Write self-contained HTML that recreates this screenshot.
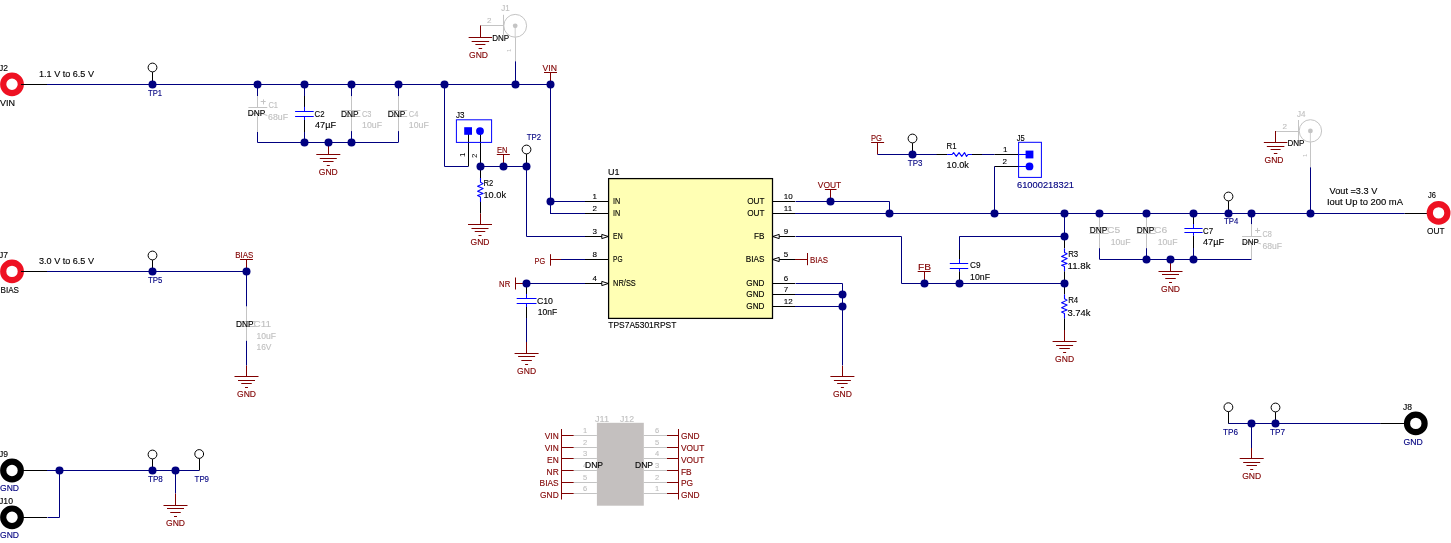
<!DOCTYPE html>
<html><head><meta charset="utf-8"><style>
html,body{margin:0;padding:0;background:#fff;overflow:hidden}
svg{display:block;font-family:"Liberation Sans", sans-serif;will-change:transform}
</style></head><body>
<svg width="1451" height="543" viewBox="0 0 1451 543">
<rect width="1451" height="543" fill="#fff"/>
<circle cx="12" cy="84.3" r="8.8" fill="none" stroke="#ee1122" stroke-width="6.2"/>
<line x1="21" y1="84.5" x2="47" y2="84.5" stroke="#000000" stroke-width="1.0"/>
<line x1="47" y1="84.5" x2="550" y2="84.5" stroke="#000080" stroke-width="1.0"/>
<text x="-1" y="70.6" fill="#000000" font-size="8.2" text-anchor="start" textLength="9" lengthAdjust="spacingAndGlyphs" stroke="#000000" stroke-width="0.12">J2</text>
<text x="0" y="106" fill="#000000" font-size="8.2" text-anchor="start" textLength="15" lengthAdjust="spacingAndGlyphs" stroke="#000000" stroke-width="0.12">VIN</text>
<text x="39" y="76.8" fill="#000000" font-size="8.2" text-anchor="start" textLength="55" lengthAdjust="spacingAndGlyphs" stroke="#000000" stroke-width="0.12">1.1 V to 6.5 V</text>
<line x1="152.5" y1="72.1" x2="152.5" y2="84" stroke="#000000" stroke-width="1.0"/>
<circle cx="152.5" cy="67.5" r="4.4" fill="#fff" stroke="#000000" stroke-width="1"/>
<text x="148" y="95.8" fill="#000080" font-size="8.2" text-anchor="start" textLength="14" lengthAdjust="spacingAndGlyphs" stroke="#000080" stroke-width="0.12">TP1</text>
<line x1="257.5" y1="84" x2="257.5" y2="96" stroke="#000080" stroke-width="1.0"/>
<line x1="257.5" y1="96" x2="257.5" y2="107.3" stroke="#c4c4c4" stroke-width="1.0"/>
<line x1="257.5" y1="116.2" x2="257.5" y2="132" stroke="#c4c4c4" stroke-width="1.0"/>
<line x1="257.5" y1="132" x2="257.5" y2="142.5" stroke="#000080" stroke-width="1.0"/>
<line x1="248.4" y1="107.5" x2="267.3" y2="107.5" stroke="#c4c4c4" stroke-width="1.0"/>
<line x1="260.7" y1="101.5" x2="265.7" y2="101.5" stroke="#c4c4c4" stroke-width="1.0"/>
<line x1="263.5" y1="99.4" x2="263.5" y2="104.4" stroke="#c4c4c4" stroke-width="1.0"/>
<path d="M248.4,115.5 Q257.5,111 267.3,115.5" fill="none" stroke="#c4c4c4" stroke-width="1"/>
<text x="247.7" y="116.3" fill="#000000" font-size="8.2" text-anchor="start" textLength="17.5" lengthAdjust="spacingAndGlyphs" stroke="#000000" stroke-width="0.12">DNP</text>
<text x="268.4" y="108.1" fill="#c0c0c0" font-size="8.2" text-anchor="start" textLength="9.6" lengthAdjust="spacingAndGlyphs" stroke="#c0c0c0" stroke-width="0.12">C1</text>
<text x="268.1" y="120" fill="#c0c0c0" font-size="8.2" text-anchor="start" textLength="20" lengthAdjust="spacingAndGlyphs" stroke="#c0c0c0" stroke-width="0.12">68uF</text>
<line x1="304.5" y1="84" x2="304.5" y2="96" stroke="#000080" stroke-width="1.0"/>
<line x1="304.5" y1="96" x2="304.5" y2="107" stroke="#000000" stroke-width="1.0"/>
<line x1="295.09999999999997" y1="111.5" x2="313.7" y2="111.5" stroke="#0000ff" stroke-width="1.0"/>
<line x1="295.09999999999997" y1="116.5" x2="313.7" y2="116.5" stroke="#0000ff" stroke-width="1.0"/>
<line x1="304.5" y1="106.8" x2="304.5" y2="111.3" stroke="#0000ff" stroke-width="1.0"/>
<line x1="304.5" y1="116.5" x2="304.5" y2="120.0" stroke="#0000ff" stroke-width="1.0"/>
<line x1="304.5" y1="120" x2="304.5" y2="132" stroke="#000000" stroke-width="1.0"/>
<line x1="304.5" y1="132" x2="304.5" y2="142.5" stroke="#000080" stroke-width="1.0"/>
<text x="314.6" y="116.5" fill="#000000" font-size="8.2" text-anchor="start" textLength="10" lengthAdjust="spacingAndGlyphs" stroke="#000000" stroke-width="0.12">C2</text>
<text x="315" y="128.1" fill="#000000" font-size="8.2" text-anchor="start" textLength="21" lengthAdjust="spacingAndGlyphs" stroke="#000000" stroke-width="0.12">47µF</text>
<line x1="351.5" y1="84" x2="351.5" y2="96.4" stroke="#000080" stroke-width="1.0"/>
<line x1="351.5" y1="96.4" x2="351.5" y2="131.1" stroke="#c4c4c4" stroke-width="1.0"/>
<line x1="351.5" y1="131.1" x2="351.5" y2="142.5" stroke="#000080" stroke-width="1.0"/>
<line x1="341.4" y1="110.5" x2="360.4" y2="110.5" stroke="#c4c4c4" stroke-width="1.0"/>
<line x1="341.4" y1="116.5" x2="360.4" y2="116.5" stroke="#c4c4c4" stroke-width="1.0"/>
<text x="341.0" y="116.7" fill="#000000" font-size="8.2" text-anchor="start" textLength="17.6" lengthAdjust="spacingAndGlyphs" stroke="#000000" stroke-width="0.12">DNP</text>
<text x="362.0" y="116.7" fill="#c0c0c0" font-size="8.2" text-anchor="start" textLength="9.5" lengthAdjust="spacingAndGlyphs" stroke="#c0c0c0" stroke-width="0.12">C3</text>
<text x="362.0" y="127.9" fill="#c0c0c0" font-size="8.2" text-anchor="start" textLength="20" lengthAdjust="spacingAndGlyphs" stroke="#c0c0c0" stroke-width="0.12">10uF</text>
<line x1="398.5" y1="84" x2="398.5" y2="96.4" stroke="#000080" stroke-width="1.0"/>
<line x1="398.5" y1="96.4" x2="398.5" y2="131.1" stroke="#c4c4c4" stroke-width="1.0"/>
<line x1="398.5" y1="131.1" x2="398.5" y2="142.5" stroke="#000080" stroke-width="1.0"/>
<line x1="388.2" y1="110.5" x2="407.2" y2="110.5" stroke="#c4c4c4" stroke-width="1.0"/>
<line x1="388.2" y1="116.5" x2="407.2" y2="116.5" stroke="#c4c4c4" stroke-width="1.0"/>
<text x="387.8" y="116.7" fill="#000000" font-size="8.2" text-anchor="start" textLength="17.6" lengthAdjust="spacingAndGlyphs" stroke="#000000" stroke-width="0.12">DNP</text>
<text x="408.8" y="116.7" fill="#c0c0c0" font-size="8.2" text-anchor="start" textLength="9.5" lengthAdjust="spacingAndGlyphs" stroke="#c0c0c0" stroke-width="0.12">C4</text>
<text x="408.8" y="127.9" fill="#c0c0c0" font-size="8.2" text-anchor="start" textLength="20" lengthAdjust="spacingAndGlyphs" stroke="#c0c0c0" stroke-width="0.12">10uF</text>
<line x1="257.5" y1="142.5" x2="398.2" y2="142.5" stroke="#000080" stroke-width="1.0"/>
<line x1="328.5" y1="142.5" x2="328.5" y2="154" stroke="#800000" stroke-width="1.0"/>
<line x1="316.3" y1="154.5" x2="340.3" y2="154.5" stroke="#800000" stroke-width="1.0"/>
<line x1="319.8" y1="158.5" x2="336.8" y2="158.5" stroke="#800000" stroke-width="1.0"/>
<line x1="323.05" y1="161.5" x2="333.55" y2="161.5" stroke="#800000" stroke-width="1.0"/>
<line x1="326.8" y1="165.5" x2="329.8" y2="165.5" stroke="#800000" stroke-width="1.0"/>
<text x="318.8" y="175.0" fill="#800000" font-size="8.2" text-anchor="start" textLength="19" lengthAdjust="spacingAndGlyphs" stroke="#800000" stroke-width="0.12">GND</text>
<polyline points="444.50,84.50 444.50,166.50 468.50,166.50" fill="none" stroke="#000080" stroke-width="1.0"/>
<line x1="468.5" y1="166.3" x2="468.5" y2="131" stroke="#000000" stroke-width="1.0"/>
<line x1="480.5" y1="131" x2="480.5" y2="166.3" stroke="#000000" stroke-width="1.0"/>
<rect x="456.4" y="119.8" width="35.2" height="22.6" fill="none" stroke="#0000ff" stroke-width="1"/>
<rect x="464.2" y="127.2" width="7.8" height="7.6" fill="#0000ff"/>
<circle cx="480" cy="131.1" r="3.9" fill="#0000ff"/>
<text x="456.1" y="117.5" fill="#000000" font-size="8.2" text-anchor="start" textLength="8.5" lengthAdjust="spacingAndGlyphs" stroke="#000000" stroke-width="0.12">J3</text>
<text x="0" y="0" fill="#000000" font-size="8" text-anchor="start" transform="translate(465.2,157) rotate(-90)">1</text>
<text x="0" y="0" fill="#000000" font-size="8" text-anchor="start" transform="translate(476.8,158) rotate(-90)">2</text>
<line x1="480" y1="166.5" x2="526.5" y2="166.5" stroke="#000080" stroke-width="1.0"/>
<line x1="496.8" y1="154.5" x2="509.8" y2="154.5" stroke="#800000" stroke-width="1.0"/>
<line x1="503.5" y1="154.5" x2="503.5" y2="166.3" stroke="#800000" stroke-width="1.0"/>
<text x="496.9" y="152.6" fill="#800000" font-size="8.2" text-anchor="start" textLength="10.6" lengthAdjust="spacingAndGlyphs" stroke="#800000" stroke-width="0.12">EN</text>
<line x1="526.5" y1="154.1" x2="526.5" y2="166.3" stroke="#000000" stroke-width="1.0"/>
<circle cx="526.5" cy="149.5" r="4.4" fill="#fff" stroke="#000000" stroke-width="1"/>
<text x="526.8" y="139.9" fill="#000080" font-size="8.2" text-anchor="start" textLength="14.3" lengthAdjust="spacingAndGlyphs" stroke="#000080" stroke-width="0.12">TP2</text>
<line x1="480.5" y1="166.3" x2="480.5" y2="178" stroke="#000000" stroke-width="1.0"/>
<polyline points="480.50,178.00 480.50,182.30 483.10,183.62 477.60,186.32 483.10,188.61 477.60,191.29 483.10,193.58 477.60,195.59 480.50,196.88 480.50,201.90" fill="none" stroke="#0000ff" stroke-width="1.1" stroke-linejoin="round"/>
<line x1="480.5" y1="201.9" x2="480.5" y2="213.5" stroke="#000000" stroke-width="1.0"/>
<line x1="480.5" y1="213.5" x2="480.5" y2="224.5" stroke="#800000" stroke-width="1.0"/>
<text x="483.5" y="186.4" fill="#000000" font-size="8.2" text-anchor="start" textLength="9.7" lengthAdjust="spacingAndGlyphs" stroke="#000000" stroke-width="0.12">R2</text>
<text x="483.5" y="198.2" fill="#000000" font-size="8.2" text-anchor="start" textLength="22.5" lengthAdjust="spacingAndGlyphs" stroke="#000000" stroke-width="0.12">10.0k</text>
<line x1="468.0" y1="224.5" x2="492.0" y2="224.5" stroke="#800000" stroke-width="1.0"/>
<line x1="471.5" y1="228.5" x2="488.5" y2="228.5" stroke="#800000" stroke-width="1.0"/>
<line x1="474.75" y1="231.5" x2="485.25" y2="231.5" stroke="#800000" stroke-width="1.0"/>
<line x1="478.5" y1="235.5" x2="481.5" y2="235.5" stroke="#800000" stroke-width="1.0"/>
<text x="470.5" y="245.0" fill="#800000" font-size="8.2" text-anchor="start" textLength="19" lengthAdjust="spacingAndGlyphs" stroke="#800000" stroke-width="0.12">GND</text>
<polyline points="526.50,166.50 526.50,236.50 585.50,236.50" fill="none" stroke="#000080" stroke-width="1.0"/>
<line x1="515.5" y1="84" x2="515.5" y2="61.2" stroke="#000080" stroke-width="1.0"/>
<line x1="515.5" y1="61.2" x2="515.5" y2="37.4" stroke="#c4c4c4" stroke-width="1.0"/>
<circle cx="515.2" cy="25.8" r="11.4" fill="none" stroke="#c4c4c4" stroke-width="1"/>
<circle cx="515.2" cy="25.8" r="2.4" fill="#c4c4c4"/>
<line x1="515.2" y1="28" x2="515.2" y2="37.4" stroke="#c4c4c4" stroke-width="0.8"/>
<line x1="503.5" y1="14.8" x2="503.5" y2="34.8" stroke="#c4c4c4" stroke-width="1.0"/>
<line x1="480.4" y1="25.5" x2="503.2" y2="25.5" stroke="#c4c4c4" stroke-width="1.0"/>
<text x="487" y="23.2" fill="#c0c0c0" font-size="7" text-anchor="start" textLength="4.5" lengthAdjust="spacingAndGlyphs" stroke="#c0c0c0" stroke-width="0.12">2</text>
<text x="501.2" y="11" fill="#c0c0c0" font-size="8.2" text-anchor="start" textLength="8.5" lengthAdjust="spacingAndGlyphs" stroke="#c0c0c0" stroke-width="0.12">J1</text>
<line x1="480.5" y1="25.5" x2="480.5" y2="37.4" stroke="#800000" stroke-width="1.0"/>
<line x1="468.65" y1="37.5" x2="492.15" y2="37.5" stroke="#800000" stroke-width="1.0"/>
<line x1="471.65" y1="41.5" x2="489.15" y2="41.5" stroke="#800000" stroke-width="1.0"/>
<line x1="475.4" y1="44.5" x2="485.4" y2="44.5" stroke="#800000" stroke-width="1.0"/>
<line x1="478.65" y1="48.5" x2="482.15" y2="48.5" stroke="#800000" stroke-width="1.0"/>
<text x="469" y="57.6" fill="#800000" font-size="8.2" text-anchor="start" textLength="19" lengthAdjust="spacingAndGlyphs" stroke="#800000" stroke-width="0.12">GND</text>
<text x="492.2" y="41" fill="#000000" font-size="8.2" text-anchor="start" textLength="17" lengthAdjust="spacingAndGlyphs" stroke="#000000" stroke-width="0.12">DNP</text>
<text x="0" y="0" fill="#c0c0c0" font-size="6" text-anchor="start" transform="translate(511,52) rotate(-90)">1</text>
<line x1="544.0" y1="72.5" x2="557.0" y2="72.5" stroke="#800000" stroke-width="1.0"/>
<line x1="550.5" y1="72.5" x2="550.5" y2="84" stroke="#800000" stroke-width="1.0"/>
<text x="542.5" y="70.8" fill="#800000" font-size="8.2" text-anchor="start" textLength="14.4" lengthAdjust="spacingAndGlyphs" stroke="#800000" stroke-width="0.12">VIN</text>
<line x1="550.5" y1="84" x2="550.5" y2="213.2" stroke="#000080" stroke-width="1.0"/>
<line x1="550" y1="201.5" x2="585" y2="201.5" stroke="#000080" stroke-width="1.0"/>
<line x1="550" y1="213.5" x2="585" y2="213.5" stroke="#000080" stroke-width="1.0"/>
<rect x="608.6" y="178.6" width="163.9" height="139.8" fill="#ffffb4" stroke="#000000" stroke-width="1.25"/>
<text x="608" y="175" fill="#000000" font-size="8.2" text-anchor="start" textLength="11.5" lengthAdjust="spacingAndGlyphs" stroke="#000000" stroke-width="0.12">U1</text>
<text x="608.3" y="328" fill="#000000" font-size="8.2" text-anchor="start" textLength="68" lengthAdjust="spacingAndGlyphs" stroke="#000000" stroke-width="0.12">TPS7A5301RPST</text>
<line x1="585" y1="201.5" x2="608.5" y2="201.5" stroke="#000000" stroke-width="1.0"/>
<text x="597" y="199.0" fill="#000000" font-size="8" text-anchor="end" stroke="#000000" stroke-width="0.12">1</text>
<line x1="585" y1="213.5" x2="608.5" y2="213.5" stroke="#000000" stroke-width="1.0"/>
<text x="597" y="210.7" fill="#000000" font-size="8" text-anchor="end" stroke="#000000" stroke-width="0.12">2</text>
<line x1="585" y1="236.5" x2="608.5" y2="236.5" stroke="#000000" stroke-width="1.0"/>
<text x="597" y="233.8" fill="#000000" font-size="8" text-anchor="end" stroke="#000000" stroke-width="0.12">3</text>
<line x1="585" y1="259.5" x2="608.5" y2="259.5" stroke="#000000" stroke-width="1.0"/>
<text x="597" y="256.5" fill="#000000" font-size="8" text-anchor="end" stroke="#000000" stroke-width="0.12">8</text>
<line x1="585" y1="283.5" x2="608.5" y2="283.5" stroke="#000000" stroke-width="1.0"/>
<text x="597" y="280.7" fill="#000000" font-size="8" text-anchor="end" stroke="#000000" stroke-width="0.12">4</text>
<path d="M601.8,234.4 L608.3,236.5 L601.8,238.6 Z" fill="#fff" stroke="#000000" stroke-width="1"/>
<path d="M601.8,281.4 L608.3,283.5 L601.8,285.6 Z" fill="#fff" stroke="#000000" stroke-width="1"/>
<text x="613.1" y="204.0" fill="#000000" font-size="8.2" text-anchor="start" textLength="7.2" lengthAdjust="spacingAndGlyphs" stroke="#000000" stroke-width="0.12">IN</text>
<text x="613.1" y="215.7" fill="#000000" font-size="8.2" text-anchor="start" textLength="7.2" lengthAdjust="spacingAndGlyphs" stroke="#000000" stroke-width="0.12">IN</text>
<text x="613.1" y="238.8" fill="#000000" font-size="8.2" text-anchor="start" textLength="9.5" lengthAdjust="spacingAndGlyphs" stroke="#000000" stroke-width="0.12">EN</text>
<text x="613.1" y="261.5" fill="#000000" font-size="8.2" text-anchor="start" textLength="9.5" lengthAdjust="spacingAndGlyphs" stroke="#000000" stroke-width="0.12">PG</text>
<text x="613.1" y="285.7" fill="#000000" font-size="8.2" text-anchor="start" textLength="22.7" lengthAdjust="spacingAndGlyphs" stroke="#000000" stroke-width="0.12">NR/SS</text>
<line x1="772.2" y1="201.5" x2="795" y2="201.5" stroke="#000000" stroke-width="1.0"/>
<text x="783.8" y="199.0" fill="#000000" font-size="8" text-anchor="start" stroke="#000000" stroke-width="0.12">10</text>
<line x1="772.2" y1="213.5" x2="795" y2="213.5" stroke="#000000" stroke-width="1.0"/>
<text x="783.8" y="210.7" fill="#000000" font-size="8" text-anchor="start" stroke="#000000" stroke-width="0.12">11</text>
<line x1="772.2" y1="236.5" x2="795" y2="236.5" stroke="#000000" stroke-width="1.0"/>
<text x="783.8" y="233.8" fill="#000000" font-size="8" text-anchor="start" stroke="#000000" stroke-width="0.12">9</text>
<line x1="772.2" y1="259.5" x2="795" y2="259.5" stroke="#000000" stroke-width="1.0"/>
<text x="783.8" y="256.5" fill="#000000" font-size="8" text-anchor="start" stroke="#000000" stroke-width="0.12">5</text>
<line x1="772.2" y1="283.5" x2="795" y2="283.5" stroke="#000000" stroke-width="1.0"/>
<text x="783.8" y="280.7" fill="#000000" font-size="8" text-anchor="start" stroke="#000000" stroke-width="0.12">6</text>
<line x1="772.2" y1="294.5" x2="795" y2="294.5" stroke="#000000" stroke-width="1.0"/>
<text x="783.8" y="291.8" fill="#000000" font-size="8" text-anchor="start" stroke="#000000" stroke-width="0.12">7</text>
<line x1="772.2" y1="306.5" x2="795" y2="306.5" stroke="#000000" stroke-width="1.0"/>
<text x="783.8" y="303.5" fill="#000000" font-size="8" text-anchor="start" stroke="#000000" stroke-width="0.12">12</text>
<path d="M779.2,234.4 L772.7,236.5 L779.2,238.6 Z" fill="#fff" stroke="#000000" stroke-width="1"/>
<path d="M779.2,257.4 L772.7,259.5 L779.2,261.6 Z" fill="#fff" stroke="#000000" stroke-width="1"/>
<text x="764.5" y="204.0" fill="#000000" font-size="8.2" text-anchor="end" stroke="#000000" stroke-width="0.12">OUT</text>
<text x="764.5" y="215.7" fill="#000000" font-size="8.2" text-anchor="end" stroke="#000000" stroke-width="0.12">OUT</text>
<text x="764.5" y="238.8" fill="#000000" font-size="8.2" text-anchor="end" stroke="#000000" stroke-width="0.12">FB</text>
<text x="764.5" y="261.5" fill="#000000" font-size="8.2" text-anchor="end" stroke="#000000" stroke-width="0.12">BIAS</text>
<text x="764.5" y="285.7" fill="#000000" font-size="8.2" text-anchor="end" stroke="#000000" stroke-width="0.12">GND</text>
<text x="764.5" y="296.8" fill="#000000" font-size="8.2" text-anchor="end" stroke="#000000" stroke-width="0.12">GND</text>
<text x="764.5" y="308.5" fill="#000000" font-size="8.2" text-anchor="end" stroke="#000000" stroke-width="0.12">GND</text>
<line x1="550.5" y1="254.2" x2="550.5" y2="265.7" stroke="#800000" stroke-width="1.0"/>
<text x="534.6" y="263.5" fill="#800000" font-size="8.2" text-anchor="start" textLength="10.6" lengthAdjust="spacingAndGlyphs" stroke="#800000" stroke-width="0.12">PG</text>
<line x1="550.5" y1="259.5" x2="561" y2="259.5" stroke="#800000" stroke-width="1.0"/>
<line x1="561" y1="259.5" x2="585" y2="259.5" stroke="#000080" stroke-width="1.0"/>
<line x1="515.5" y1="277.5" x2="515.5" y2="289.5" stroke="#800000" stroke-width="1.0"/>
<text x="499.1" y="286.9" fill="#800000" font-size="8.2" text-anchor="start" textLength="11.1" lengthAdjust="spacingAndGlyphs" stroke="#800000" stroke-width="0.12">NR</text>
<line x1="515.5" y1="283.5" x2="526.6" y2="283.5" stroke="#800000" stroke-width="1.0"/>
<line x1="526.6" y1="283.5" x2="585" y2="283.5" stroke="#000080" stroke-width="1.0"/>
<line x1="526.5" y1="283.2" x2="526.5" y2="294.1" stroke="#000000" stroke-width="1.0"/>
<line x1="516.7" y1="298.5" x2="536.5" y2="298.5" stroke="#0000ff" stroke-width="1.0"/>
<line x1="516.7" y1="303.5" x2="536.5" y2="303.5" stroke="#0000ff" stroke-width="1.0"/>
<line x1="526.5" y1="293.9" x2="526.5" y2="298.4" stroke="#0000ff" stroke-width="1.0"/>
<line x1="526.5" y1="303.5" x2="526.5" y2="307.0" stroke="#0000ff" stroke-width="1.0"/>
<line x1="526.5" y1="307" x2="526.5" y2="318" stroke="#000000" stroke-width="1.0"/>
<line x1="526.5" y1="318" x2="526.5" y2="342" stroke="#000080" stroke-width="1.0"/>
<line x1="526.5" y1="342" x2="526.5" y2="353" stroke="#800000" stroke-width="1.0"/>
<line x1="514.6" y1="353.5" x2="538.6" y2="353.5" stroke="#800000" stroke-width="1.0"/>
<line x1="518.1" y1="356.5" x2="535.1" y2="356.5" stroke="#800000" stroke-width="1.0"/>
<line x1="521.35" y1="360.5" x2="531.85" y2="360.5" stroke="#800000" stroke-width="1.0"/>
<line x1="525.1" y1="364.5" x2="528.1" y2="364.5" stroke="#800000" stroke-width="1.0"/>
<text x="517.1" y="373.5" fill="#800000" font-size="8.2" text-anchor="start" textLength="19" lengthAdjust="spacingAndGlyphs" stroke="#800000" stroke-width="0.12">GND</text>
<text x="536.9" y="303.6" fill="#000000" font-size="8.2" text-anchor="start" textLength="16.1" lengthAdjust="spacingAndGlyphs" stroke="#000000" stroke-width="0.12">C10</text>
<text x="537.8" y="314.9" fill="#000000" font-size="8.2" text-anchor="start" textLength="19.4" lengthAdjust="spacingAndGlyphs" stroke="#000000" stroke-width="0.12">10nF</text>
<line x1="824.9000000000001" y1="189.5" x2="836.5" y2="189.5" stroke="#800000" stroke-width="1.0"/>
<line x1="830.5" y1="189.9" x2="830.5" y2="201.5" stroke="#800000" stroke-width="1.0"/>
<text x="817.8" y="188" fill="#800000" font-size="8.2" text-anchor="start" textLength="23.5" lengthAdjust="spacingAndGlyphs" stroke="#800000" stroke-width="0.12">VOUT</text>
<polyline points="795.50,201.50 889.50,201.50 889.50,213.50" fill="none" stroke="#000080" stroke-width="1.0"/>
<line x1="795" y1="213.5" x2="1404.7" y2="213.5" stroke="#000080" stroke-width="1.0"/>
<line x1="1404.7" y1="213.5" x2="1430" y2="213.5" stroke="#000000" stroke-width="1.0"/>
<polyline points="795.50,236.50 901.50,236.50 901.50,283.50 1064.50,283.50" fill="none" stroke="#000080" stroke-width="1.0"/>
<line x1="795" y1="259.5" x2="807.3" y2="259.5" stroke="#800000" stroke-width="1.0"/>
<line x1="807.5" y1="253" x2="807.5" y2="265.2" stroke="#800000" stroke-width="1.0"/>
<text x="810" y="263.3" fill="#800000" font-size="8.2" text-anchor="start" textLength="18" lengthAdjust="spacingAndGlyphs" stroke="#800000" stroke-width="0.12">BIAS</text>
<polyline points="795.50,283.50 842.50,283.50 842.50,365.50" fill="none" stroke="#000080" stroke-width="1.0"/>
<line x1="842.5" y1="365.8" x2="842.5" y2="376.5" stroke="#800000" stroke-width="1.0"/>
<line x1="795" y1="294.5" x2="842.4" y2="294.5" stroke="#000080" stroke-width="1.0"/>
<line x1="795" y1="306.5" x2="842.4" y2="306.5" stroke="#000080" stroke-width="1.0"/>
<line x1="830.4" y1="376.5" x2="854.4" y2="376.5" stroke="#800000" stroke-width="1.0"/>
<line x1="833.9" y1="380.5" x2="850.9" y2="380.5" stroke="#800000" stroke-width="1.0"/>
<line x1="837.15" y1="383.5" x2="847.65" y2="383.5" stroke="#800000" stroke-width="1.0"/>
<line x1="840.9" y1="387.5" x2="843.9" y2="387.5" stroke="#800000" stroke-width="1.0"/>
<text x="832.9" y="397.0" fill="#800000" font-size="8.2" text-anchor="start" textLength="19" lengthAdjust="spacingAndGlyphs" stroke="#800000" stroke-width="0.12">GND</text>
<line x1="871.1" y1="142.5" x2="884.1" y2="142.5" stroke="#800000" stroke-width="1.0"/>
<line x1="877.5" y1="142.3" x2="877.5" y2="154.5" stroke="#800000" stroke-width="1.0"/>
<text x="870.9" y="140.6" fill="#800000" font-size="8.2" text-anchor="start" textLength="11" lengthAdjust="spacingAndGlyphs" stroke="#800000" stroke-width="0.12">PG</text>
<line x1="877.6" y1="154.5" x2="937" y2="154.5" stroke="#000080" stroke-width="1.0"/>
<line x1="912.5" y1="143.1" x2="912.5" y2="154.5" stroke="#000000" stroke-width="1.0"/>
<circle cx="912.5" cy="138.5" r="4.4" fill="#fff" stroke="#000000" stroke-width="1"/>
<text x="907.8" y="165.7" fill="#000080" font-size="8.2" text-anchor="start" textLength="14.6" lengthAdjust="spacingAndGlyphs" stroke="#000080" stroke-width="0.12">TP3</text>
<line x1="936.6" y1="154.5" x2="947.1" y2="154.5" stroke="#000000" stroke-width="1.0"/>
<polyline points="947.10,154.50 952.08,154.50 953.57,152.60 956.31,156.40 959.05,152.60 961.79,156.40 964.53,152.60 966.52,156.40 968.02,154.50 972.00,154.50" fill="none" stroke="#0000ff" stroke-width="1.1" stroke-linejoin="round"/>
<line x1="972" y1="154.5" x2="982" y2="154.5" stroke="#000000" stroke-width="1.0"/>
<line x1="982" y1="154.5" x2="994.6" y2="154.5" stroke="#000080" stroke-width="1.0"/>
<line x1="994.6" y1="154.5" x2="1018.4" y2="154.5" stroke="#000000" stroke-width="1.0"/>
<line x1="1018.4" y1="154.5" x2="1029.5" y2="154.5" stroke="#0000ff" stroke-width="1.0"/>
<text x="946.6" y="149" fill="#000000" font-size="8.2" text-anchor="start" textLength="10" lengthAdjust="spacingAndGlyphs" stroke="#000000" stroke-width="0.12">R1</text>
<text x="946.6" y="167.8" fill="#000000" font-size="8.2" text-anchor="start" textLength="22.3" lengthAdjust="spacingAndGlyphs" stroke="#000000" stroke-width="0.12">10.0k</text>
<rect x="1018.6" y="142.3" width="22.8" height="35.1" fill="none" stroke="#0000ff" stroke-width="1"/>
<rect x="1025.6" y="150.6" width="7.8" height="7.8" fill="#0000ff"/>
<circle cx="1029.5" cy="166.4" r="3.9" fill="#0000ff"/>
<text x="1003" y="152.1" fill="#000000" font-size="8" text-anchor="start" stroke="#000000" stroke-width="0.12">1</text>
<text x="1002.5" y="164" fill="#000000" font-size="8" text-anchor="start" stroke="#000000" stroke-width="0.12">2</text>
<text x="1016.7" y="140.5" fill="#000000" font-size="8.2" text-anchor="start" textLength="8" lengthAdjust="spacingAndGlyphs" stroke="#000000" stroke-width="0.12">J5</text>
<text x="1017" y="188" fill="#000080" font-size="8.2" text-anchor="start" textLength="57" lengthAdjust="spacingAndGlyphs" stroke="#000080" stroke-width="0.12">61000218321</text>
<line x1="1018.4" y1="166.5" x2="1029.5" y2="166.5" stroke="#0000ff" stroke-width="1.0"/>
<line x1="994.6" y1="166.5" x2="1018.4" y2="166.5" stroke="#000000" stroke-width="1.0"/>
<line x1="994.5" y1="166.4" x2="994.5" y2="213.2" stroke="#000080" stroke-width="1.0"/>
<polyline points="959.50,236.50 1064.50,236.50" fill="none" stroke="#000080" stroke-width="1.0"/>
<line x1="1064.5" y1="213.2" x2="1064.5" y2="236.3" stroke="#000080" stroke-width="1.0"/>
<line x1="959.5" y1="236.3" x2="959.5" y2="250" stroke="#000080" stroke-width="1.0"/>
<line x1="959.5" y1="250" x2="959.5" y2="259.5" stroke="#000000" stroke-width="1.0"/>
<line x1="949.8" y1="263.5" x2="968.2" y2="263.5" stroke="#0000ff" stroke-width="1.0"/>
<line x1="949.8" y1="268.5" x2="968.2" y2="268.5" stroke="#0000ff" stroke-width="1.0"/>
<line x1="959.5" y1="259.1" x2="959.5" y2="263.6" stroke="#0000ff" stroke-width="1.0"/>
<line x1="959.5" y1="268.2" x2="959.5" y2="271.7" stroke="#0000ff" stroke-width="1.0"/>
<line x1="959.5" y1="271.5" x2="959.5" y2="283.2" stroke="#000000" stroke-width="1.0"/>
<line x1="917.7" y1="271.5" x2="930.7" y2="271.5" stroke="#800000" stroke-width="1.0"/>
<line x1="924.5" y1="271.5" x2="924.5" y2="283.2" stroke="#800000" stroke-width="1.0"/>
<text x="918" y="269.5" fill="#800000" font-size="8.2" text-anchor="start" textLength="13" lengthAdjust="spacingAndGlyphs" stroke="#800000" stroke-width="0.12">FB</text>
<text x="970" y="267.5" fill="#000000" font-size="8.2" text-anchor="start" textLength="10.5" lengthAdjust="spacingAndGlyphs" stroke="#000000" stroke-width="0.12">C9</text>
<text x="970.1" y="280.1" fill="#000000" font-size="8.2" text-anchor="start" textLength="19.9" lengthAdjust="spacingAndGlyphs" stroke="#000000" stroke-width="0.12">10nF</text>
<line x1="1064.5" y1="236.3" x2="1064.5" y2="248.4" stroke="#000000" stroke-width="1.0"/>
<polyline points="1064.50,248.40 1064.50,252.54 1067.10,253.81 1061.60,256.40 1067.10,258.61 1061.60,261.19 1067.10,263.40 1061.60,265.33 1064.50,266.57 1064.50,271.40" fill="none" stroke="#0000ff" stroke-width="1.1" stroke-linejoin="round"/>
<line x1="1064.5" y1="271.4" x2="1064.5" y2="283.2" stroke="#000000" stroke-width="1.0"/>
<text x="1068.2" y="257" fill="#000000" font-size="8.2" text-anchor="start" textLength="10" lengthAdjust="spacingAndGlyphs" stroke="#000000" stroke-width="0.12">R3</text>
<text x="1067.5" y="269" fill="#000000" font-size="8.2" text-anchor="start" textLength="23" lengthAdjust="spacingAndGlyphs" stroke="#000000" stroke-width="0.12">11.8k</text>
<line x1="1064.5" y1="283.2" x2="1064.5" y2="294.5" stroke="#000000" stroke-width="1.0"/>
<polyline points="1064.50,294.50 1064.50,298.80 1067.10,300.12 1061.60,302.82 1067.10,305.11 1061.60,307.79 1067.10,310.08 1061.60,312.09 1064.50,313.38 1064.50,318.40" fill="none" stroke="#0000ff" stroke-width="1.1" stroke-linejoin="round"/>
<line x1="1064.5" y1="318.4" x2="1064.5" y2="330" stroke="#000000" stroke-width="1.0"/>
<line x1="1064.5" y1="330" x2="1064.5" y2="341.2" stroke="#800000" stroke-width="1.0"/>
<text x="1068.2" y="303.3" fill="#000000" font-size="8.2" text-anchor="start" textLength="10" lengthAdjust="spacingAndGlyphs" stroke="#000000" stroke-width="0.12">R4</text>
<text x="1067.5" y="315.5" fill="#000000" font-size="8.2" text-anchor="start" textLength="23" lengthAdjust="spacingAndGlyphs" stroke="#000000" stroke-width="0.12">3.74k</text>
<line x1="1052.6" y1="341.5" x2="1076.6" y2="341.5" stroke="#800000" stroke-width="1.0"/>
<line x1="1056.1" y1="345.5" x2="1073.1" y2="345.5" stroke="#800000" stroke-width="1.0"/>
<line x1="1059.35" y1="348.5" x2="1069.85" y2="348.5" stroke="#800000" stroke-width="1.0"/>
<line x1="1063.1" y1="352.5" x2="1066.1" y2="352.5" stroke="#800000" stroke-width="1.0"/>
<text x="1055.1" y="361.7" fill="#800000" font-size="8.2" text-anchor="start" textLength="19" lengthAdjust="spacingAndGlyphs" stroke="#800000" stroke-width="0.12">GND</text>
<line x1="1099.5" y1="213.2" x2="1099.5" y2="248.2" stroke="#c4c4c4" stroke-width="1.0"/>
<line x1="1099.5" y1="248.2" x2="1099.5" y2="259.2" stroke="#000080" stroke-width="1.0"/>
<line x1="1089.5" y1="227.5" x2="1108.5" y2="227.5" stroke="#c4c4c4" stroke-width="1.0"/>
<line x1="1089.5" y1="233.5" x2="1108.5" y2="233.5" stroke="#c4c4c4" stroke-width="1.0"/>
<text x="1089.8" y="233.3" fill="#000000" font-size="8.2" text-anchor="start" textLength="17.4" lengthAdjust="spacingAndGlyphs" stroke="#000000" stroke-width="0.12">DNP</text>
<text x="1107.1" y="233.3" fill="#c0c0c0" font-size="8.2" text-anchor="start" textLength="13.2" lengthAdjust="spacingAndGlyphs" stroke="#c0c0c0" stroke-width="0.12">C5</text>
<text x="1110.7" y="244.9" fill="#c0c0c0" font-size="8.2" text-anchor="start" textLength="19.8" lengthAdjust="spacingAndGlyphs" stroke="#c0c0c0" stroke-width="0.12">10uF</text>
<line x1="1146.5" y1="213.2" x2="1146.5" y2="248.2" stroke="#c4c4c4" stroke-width="1.0"/>
<line x1="1146.5" y1="248.2" x2="1146.5" y2="259.2" stroke="#000080" stroke-width="1.0"/>
<line x1="1136.5" y1="227.5" x2="1155.5" y2="227.5" stroke="#c4c4c4" stroke-width="1.0"/>
<line x1="1136.5" y1="233.5" x2="1155.5" y2="233.5" stroke="#c4c4c4" stroke-width="1.0"/>
<text x="1136.8" y="233.3" fill="#000000" font-size="8.2" text-anchor="start" textLength="17.4" lengthAdjust="spacingAndGlyphs" stroke="#000000" stroke-width="0.12">DNP</text>
<text x="1154.1" y="233.3" fill="#c0c0c0" font-size="8.2" text-anchor="start" textLength="13.2" lengthAdjust="spacingAndGlyphs" stroke="#c0c0c0" stroke-width="0.12">C6</text>
<text x="1157.7" y="244.9" fill="#c0c0c0" font-size="8.2" text-anchor="start" textLength="19.8" lengthAdjust="spacingAndGlyphs" stroke="#c0c0c0" stroke-width="0.12">10uF</text>
<line x1="1193.5" y1="213.2" x2="1193.5" y2="224" stroke="#000000" stroke-width="1.0"/>
<line x1="1184.4" y1="228.5" x2="1202.6" y2="228.5" stroke="#0000ff" stroke-width="1.0"/>
<line x1="1184.4" y1="232.5" x2="1202.6" y2="232.5" stroke="#0000ff" stroke-width="1.0"/>
<line x1="1193.5" y1="224.0" x2="1193.5" y2="228.5" stroke="#0000ff" stroke-width="1.0"/>
<line x1="1193.5" y1="232.3" x2="1193.5" y2="235.8" stroke="#0000ff" stroke-width="1.0"/>
<line x1="1193.5" y1="235.8" x2="1193.5" y2="248" stroke="#000000" stroke-width="1.0"/>
<line x1="1193.5" y1="248" x2="1193.5" y2="259.2" stroke="#000080" stroke-width="1.0"/>
<text x="1203" y="233.5" fill="#000000" font-size="8.2" text-anchor="start" textLength="10" lengthAdjust="spacingAndGlyphs" stroke="#000000" stroke-width="0.12">C7</text>
<text x="1203" y="244.9" fill="#000000" font-size="8.2" text-anchor="start" textLength="21" lengthAdjust="spacingAndGlyphs" stroke="#000000" stroke-width="0.12">47µF</text>
<line x1="1099.5" y1="259.5" x2="1251.5" y2="259.5" stroke="#000080" stroke-width="1.0"/>
<line x1="1170.5" y1="259.2" x2="1170.5" y2="271" stroke="#800000" stroke-width="1.0"/>
<line x1="1158.5" y1="271.5" x2="1182.5" y2="271.5" stroke="#800000" stroke-width="1.0"/>
<line x1="1162.0" y1="274.5" x2="1179.0" y2="274.5" stroke="#800000" stroke-width="1.0"/>
<line x1="1165.25" y1="278.5" x2="1175.75" y2="278.5" stroke="#800000" stroke-width="1.0"/>
<line x1="1169.0" y1="282.5" x2="1172.0" y2="282.5" stroke="#800000" stroke-width="1.0"/>
<text x="1161.0" y="291.5" fill="#800000" font-size="8.2" text-anchor="start" textLength="19" lengthAdjust="spacingAndGlyphs" stroke="#800000" stroke-width="0.12">GND</text>
<line x1="1228.5" y1="201.1" x2="1228.5" y2="213.2" stroke="#000000" stroke-width="1.0"/>
<circle cx="1228.5" cy="196.5" r="4.4" fill="#fff" stroke="#000000" stroke-width="1"/>
<text x="1224" y="224" fill="#000080" font-size="8.2" text-anchor="start" textLength="14.2" lengthAdjust="spacingAndGlyphs" stroke="#000080" stroke-width="0.12">TP4</text>
<line x1="1251.5" y1="213.2" x2="1251.5" y2="224.4" stroke="#000080" stroke-width="1.0"/>
<line x1="1251.5" y1="224.4" x2="1251.5" y2="236.5" stroke="#c4c4c4" stroke-width="1.0"/>
<line x1="1251.5" y1="245" x2="1251.5" y2="259.2" stroke="#c4c4c4" stroke-width="1.0"/>
<line x1="1242.1" y1="236.5" x2="1261.5" y2="236.5" stroke="#c4c4c4" stroke-width="1.0"/>
<line x1="1255.1" y1="230.5" x2="1260.1" y2="230.5" stroke="#c4c4c4" stroke-width="1.0"/>
<line x1="1257.5" y1="227.9" x2="1257.5" y2="232.9" stroke="#c4c4c4" stroke-width="1.0"/>
<path d="M1242,244 Q1251.5,239.5 1261,244" fill="none" stroke="#c4c4c4" stroke-width="1"/>
<text x="1242.1" y="245" fill="#000000" font-size="8.2" text-anchor="start" textLength="16.8" lengthAdjust="spacingAndGlyphs" stroke="#000000" stroke-width="0.12">DNP</text>
<text x="1262.5" y="236.9" fill="#c0c0c0" font-size="8.2" text-anchor="start" textLength="9.3" lengthAdjust="spacingAndGlyphs" stroke="#c0c0c0" stroke-width="0.12">C8</text>
<text x="1262.5" y="248.5" fill="#c0c0c0" font-size="8.2" text-anchor="start" textLength="19.6" lengthAdjust="spacingAndGlyphs" stroke="#c0c0c0" stroke-width="0.12">68uF</text>
<line x1="1310.5" y1="213.2" x2="1310.5" y2="167.2" stroke="#000080" stroke-width="1.0"/>
<line x1="1310.5" y1="167.2" x2="1310.5" y2="142.1" stroke="#c4c4c4" stroke-width="1.0"/>
<circle cx="1310.4" cy="130.9" r="11.2" fill="none" stroke="#c4c4c4" stroke-width="1"/>
<circle cx="1310.4" cy="130.9" r="2.4" fill="#c4c4c4"/>
<line x1="1310.4" y1="133" x2="1310.4" y2="142" stroke="#c4c4c4" stroke-width="0.8"/>
<line x1="1298.5" y1="120" x2="1298.5" y2="143" stroke="#c4c4c4" stroke-width="1.0"/>
<line x1="1275.6" y1="131.5" x2="1298.3" y2="131.5" stroke="#c4c4c4" stroke-width="1.0"/>
<text x="1282.5" y="128.5" fill="#c0c0c0" font-size="7" text-anchor="start" textLength="4.5" lengthAdjust="spacingAndGlyphs" stroke="#c0c0c0" stroke-width="0.12">2</text>
<text x="1297" y="117" fill="#c0c0c0" font-size="8.2" text-anchor="start" textLength="8.5" lengthAdjust="spacingAndGlyphs" stroke="#c0c0c0" stroke-width="0.12">J4</text>
<line x1="1275.5" y1="131" x2="1275.5" y2="142.2" stroke="#800000" stroke-width="1.0"/>
<line x1="1263.85" y1="142.5" x2="1287.35" y2="142.5" stroke="#800000" stroke-width="1.0"/>
<line x1="1266.85" y1="146.5" x2="1284.35" y2="146.5" stroke="#800000" stroke-width="1.0"/>
<line x1="1270.6" y1="149.5" x2="1280.6" y2="149.5" stroke="#800000" stroke-width="1.0"/>
<line x1="1273.85" y1="153.5" x2="1277.35" y2="153.5" stroke="#800000" stroke-width="1.0"/>
<text x="1264.5" y="163" fill="#800000" font-size="8.2" text-anchor="start" textLength="19" lengthAdjust="spacingAndGlyphs" stroke="#800000" stroke-width="0.12">GND</text>
<text x="1287.5" y="146.3" fill="#000000" font-size="8.2" text-anchor="start" textLength="17" lengthAdjust="spacingAndGlyphs" stroke="#000000" stroke-width="0.12">DNP</text>
<text x="0" y="0" fill="#c0c0c0" font-size="6" text-anchor="start" transform="translate(1306.5,157) rotate(-90)">1</text>
<text x="1329.6" y="193.7" fill="#000000" font-size="8.2" text-anchor="start" textLength="47.7" lengthAdjust="spacingAndGlyphs" stroke="#000000" stroke-width="0.12">Vout =3.3 V</text>
<text x="1327" y="205" fill="#000000" font-size="8.2" text-anchor="start" textLength="76" lengthAdjust="spacingAndGlyphs" stroke="#000000" stroke-width="0.12">Iout Up to 200 mA</text>
<circle cx="1438.6" cy="212.9" r="8.8" fill="none" stroke="#ee1122" stroke-width="6.2"/>
<text x="1428" y="198" fill="#000000" font-size="8.2" text-anchor="start" textLength="8" lengthAdjust="spacingAndGlyphs" stroke="#000000" stroke-width="0.12">J6</text>
<text x="1427" y="234.1" fill="#000000" font-size="8.2" text-anchor="start" textLength="17.5" lengthAdjust="spacingAndGlyphs" stroke="#000000" stroke-width="0.12">OUT</text>
<circle cx="12" cy="271.4" r="8.8" fill="none" stroke="#ee1122" stroke-width="6.2"/>
<line x1="21" y1="271.5" x2="47" y2="271.5" stroke="#000000" stroke-width="1.0"/>
<line x1="47" y1="271.5" x2="246" y2="271.5" stroke="#000080" stroke-width="1.0"/>
<text x="-1" y="258" fill="#000000" font-size="8.2" text-anchor="start" textLength="9" lengthAdjust="spacingAndGlyphs" stroke="#000000" stroke-width="0.12">J7</text>
<text x="0.5" y="293" fill="#000000" font-size="8.2" text-anchor="start" textLength="18.5" lengthAdjust="spacingAndGlyphs" stroke="#000000" stroke-width="0.12">BIAS</text>
<text x="39" y="264" fill="#000000" font-size="8.2" text-anchor="start" textLength="55" lengthAdjust="spacingAndGlyphs" stroke="#000000" stroke-width="0.12">3.0 V to 6.5 V</text>
<line x1="152.5" y1="260.1" x2="152.5" y2="271.4" stroke="#000000" stroke-width="1.0"/>
<circle cx="152.5" cy="255.5" r="4.4" fill="#fff" stroke="#000000" stroke-width="1"/>
<text x="147.9" y="283" fill="#000080" font-size="8.2" text-anchor="start" textLength="14.4" lengthAdjust="spacingAndGlyphs" stroke="#000080" stroke-width="0.12">TP5</text>
<line x1="240.05" y1="259.5" x2="252.95" y2="259.5" stroke="#800000" stroke-width="1.0"/>
<line x1="246.5" y1="259.2" x2="246.5" y2="271.4" stroke="#800000" stroke-width="1.0"/>
<text x="235.3" y="257.9" fill="#800000" font-size="8.2" text-anchor="start" textLength="18.1" lengthAdjust="spacingAndGlyphs" stroke="#800000" stroke-width="0.12">BIAS</text>
<line x1="246.5" y1="271.4" x2="246.5" y2="306.6" stroke="#000080" stroke-width="1.0"/>
<line x1="246.5" y1="306.6" x2="246.5" y2="340.8" stroke="#c4c4c4" stroke-width="1.0"/>
<line x1="246.5" y1="340.8" x2="246.5" y2="365.6" stroke="#000080" stroke-width="1.0"/>
<line x1="246.5" y1="365.6" x2="246.5" y2="376.2" stroke="#800000" stroke-width="1.0"/>
<line x1="236.5" y1="321.5" x2="255.5" y2="321.5" stroke="#c4c4c4" stroke-width="1.0"/>
<line x1="236.5" y1="326.5" x2="255.5" y2="326.5" stroke="#c4c4c4" stroke-width="1.0"/>
<text x="236" y="327.3" fill="#000000" font-size="8.2" text-anchor="start" textLength="17.5" lengthAdjust="spacingAndGlyphs" stroke="#000000" stroke-width="0.12">DNP</text>
<text x="253.5" y="327.3" fill="#c0c0c0" font-size="8.2" text-anchor="start" textLength="17.5" lengthAdjust="spacingAndGlyphs" stroke="#c0c0c0" stroke-width="0.12">C11</text>
<text x="256.5" y="339.1" fill="#c0c0c0" font-size="8.2" text-anchor="start" textLength="19.5" lengthAdjust="spacingAndGlyphs" stroke="#c0c0c0" stroke-width="0.12">10uF</text>
<text x="256.5" y="350.1" fill="#c0c0c0" font-size="8.2" text-anchor="start" textLength="15" lengthAdjust="spacingAndGlyphs" stroke="#c0c0c0" stroke-width="0.12">16V</text>
<line x1="234.5" y1="376.5" x2="258.5" y2="376.5" stroke="#800000" stroke-width="1.0"/>
<line x1="238.0" y1="380.5" x2="255.0" y2="380.5" stroke="#800000" stroke-width="1.0"/>
<line x1="241.25" y1="383.5" x2="251.75" y2="383.5" stroke="#800000" stroke-width="1.0"/>
<line x1="245.0" y1="387.5" x2="248.0" y2="387.5" stroke="#800000" stroke-width="1.0"/>
<text x="237.0" y="396.7" fill="#800000" font-size="8.2" text-anchor="start" textLength="19" lengthAdjust="spacingAndGlyphs" stroke="#800000" stroke-width="0.12">GND</text>
<circle cx="12" cy="470.5" r="8.8" fill="none" stroke="#000000" stroke-width="6.2"/>
<circle cx="12" cy="517.3" r="8.8" fill="none" stroke="#000000" stroke-width="6.2"/>
<line x1="21" y1="470.5" x2="47" y2="470.5" stroke="#000000" stroke-width="1.0"/>
<line x1="47" y1="470.5" x2="199.2" y2="470.5" stroke="#000080" stroke-width="1.0"/>
<line x1="21" y1="517.5" x2="47" y2="517.5" stroke="#000000" stroke-width="1.0"/>
<polyline points="47.50,517.50 59.50,517.50 59.50,470.50" fill="none" stroke="#000080" stroke-width="1.0"/>
<text x="-1" y="457" fill="#000000" font-size="8.2" text-anchor="start" textLength="9" lengthAdjust="spacingAndGlyphs" stroke="#000000" stroke-width="0.12">J9</text>
<text x="0" y="491" fill="#000080" font-size="8.2" text-anchor="start" textLength="19" lengthAdjust="spacingAndGlyphs" stroke="#000080" stroke-width="0.12">GND</text>
<text x="-1" y="504" fill="#000000" font-size="8.2" text-anchor="start" textLength="14" lengthAdjust="spacingAndGlyphs" stroke="#000000" stroke-width="0.12">J10</text>
<text x="0" y="538" fill="#000080" font-size="8.2" text-anchor="start" textLength="19" lengthAdjust="spacingAndGlyphs" stroke="#000080" stroke-width="0.12">GND</text>
<line x1="152.5" y1="459.1" x2="152.5" y2="470.3" stroke="#000000" stroke-width="1.0"/>
<circle cx="152.5" cy="454.5" r="4.4" fill="#fff" stroke="#000000" stroke-width="1"/>
<text x="148" y="481.8" fill="#000080" font-size="8.2" text-anchor="start" textLength="14.8" lengthAdjust="spacingAndGlyphs" stroke="#000080" stroke-width="0.12">TP8</text>
<line x1="175.5" y1="470.3" x2="175.5" y2="493.5" stroke="#000080" stroke-width="1.0"/>
<line x1="175.5" y1="493.5" x2="175.5" y2="505" stroke="#800000" stroke-width="1.0"/>
<line x1="163.5" y1="505.5" x2="187.5" y2="505.5" stroke="#800000" stroke-width="1.0"/>
<line x1="167.0" y1="508.5" x2="184.0" y2="508.5" stroke="#800000" stroke-width="1.0"/>
<line x1="170.25" y1="512.5" x2="180.75" y2="512.5" stroke="#800000" stroke-width="1.0"/>
<line x1="174.0" y1="516.5" x2="177.0" y2="516.5" stroke="#800000" stroke-width="1.0"/>
<text x="166.0" y="525.5" fill="#800000" font-size="8.2" text-anchor="start" textLength="19" lengthAdjust="spacingAndGlyphs" stroke="#800000" stroke-width="0.12">GND</text>
<polyline points="199.50,470.50 199.50,458.50" fill="none" stroke="#000000" stroke-width="1.0"/>
<circle cx="199.2" cy="454" r="4.4" fill="#fff" stroke="#000000" stroke-width="1"/>
<text x="194.6" y="481.8" fill="#000080" font-size="8.2" text-anchor="start" textLength="14.4" lengthAdjust="spacingAndGlyphs" stroke="#000080" stroke-width="0.12">TP9</text>
<rect x="596.9" y="422.8" width="46.9" height="82.9" fill="#c4c0bf"/>
<line x1="573.7" y1="435.5" x2="596.9" y2="435.5" stroke="#c4c4c4" stroke-width="1.0"/>
<line x1="561.6" y1="435.5" x2="573.7" y2="435.5" stroke="#800000" stroke-width="1.0"/>
<line x1="643.8" y1="435.5" x2="667" y2="435.5" stroke="#c4c4c4" stroke-width="1.0"/>
<line x1="667" y1="435.5" x2="678.3" y2="435.5" stroke="#800000" stroke-width="1.0"/>
<text x="558.7" y="439.4" fill="#800000" font-size="8.4" text-anchor="end" stroke="#800000" stroke-width="0.12">VIN</text>
<text x="681" y="439.4" fill="#800000" font-size="8.4" text-anchor="start" stroke="#800000" stroke-width="0.12">GND</text>
<text x="585" y="432.79999999999995" fill="#c0c0c0" font-size="7.5" text-anchor="middle" stroke="#c0c0c0" stroke-width="0.12">1</text>
<text x="657" y="432.79999999999995" fill="#c0c0c0" font-size="7.5" text-anchor="middle" stroke="#c0c0c0" stroke-width="0.12">6</text>
<line x1="573.7" y1="447.5" x2="596.9" y2="447.5" stroke="#c4c4c4" stroke-width="1.0"/>
<line x1="561.6" y1="447.5" x2="573.7" y2="447.5" stroke="#800000" stroke-width="1.0"/>
<line x1="643.8" y1="447.5" x2="667" y2="447.5" stroke="#c4c4c4" stroke-width="1.0"/>
<line x1="667" y1="447.5" x2="678.3" y2="447.5" stroke="#800000" stroke-width="1.0"/>
<text x="558.7" y="451.3" fill="#800000" font-size="8.4" text-anchor="end" stroke="#800000" stroke-width="0.12">VIN</text>
<text x="681" y="451.3" fill="#800000" font-size="8.4" text-anchor="start" stroke="#800000" stroke-width="0.12">VOUT</text>
<text x="585" y="444.7" fill="#c0c0c0" font-size="7.5" text-anchor="middle" stroke="#c0c0c0" stroke-width="0.12">2</text>
<text x="657" y="444.7" fill="#c0c0c0" font-size="7.5" text-anchor="middle" stroke="#c0c0c0" stroke-width="0.12">5</text>
<line x1="573.7" y1="458.5" x2="596.9" y2="458.5" stroke="#c4c4c4" stroke-width="1.0"/>
<line x1="561.6" y1="458.5" x2="573.7" y2="458.5" stroke="#800000" stroke-width="1.0"/>
<line x1="643.8" y1="458.5" x2="667" y2="458.5" stroke="#c4c4c4" stroke-width="1.0"/>
<line x1="667" y1="458.5" x2="678.3" y2="458.5" stroke="#800000" stroke-width="1.0"/>
<text x="558.7" y="462.6" fill="#800000" font-size="8.4" text-anchor="end" stroke="#800000" stroke-width="0.12">EN</text>
<text x="681" y="462.6" fill="#800000" font-size="8.4" text-anchor="start" stroke="#800000" stroke-width="0.12">VOUT</text>
<text x="585" y="456.0" fill="#c0c0c0" font-size="7.5" text-anchor="middle" stroke="#c0c0c0" stroke-width="0.12">3</text>
<text x="657" y="456.0" fill="#c0c0c0" font-size="7.5" text-anchor="middle" stroke="#c0c0c0" stroke-width="0.12">4</text>
<line x1="573.7" y1="470.5" x2="596.9" y2="470.5" stroke="#c4c4c4" stroke-width="1.0"/>
<line x1="561.6" y1="470.5" x2="573.7" y2="470.5" stroke="#800000" stroke-width="1.0"/>
<line x1="643.8" y1="470.5" x2="667" y2="470.5" stroke="#c4c4c4" stroke-width="1.0"/>
<line x1="667" y1="470.5" x2="678.3" y2="470.5" stroke="#800000" stroke-width="1.0"/>
<text x="558.7" y="474.7" fill="#800000" font-size="8.4" text-anchor="end" stroke="#800000" stroke-width="0.12">NR</text>
<text x="681" y="474.7" fill="#800000" font-size="8.4" text-anchor="start" stroke="#800000" stroke-width="0.12">FB</text>
<text x="585" y="468.09999999999997" fill="#c0c0c0" font-size="7.5" text-anchor="middle" stroke="#c0c0c0" stroke-width="0.12">4</text>
<text x="657" y="468.09999999999997" fill="#c0c0c0" font-size="7.5" text-anchor="middle" stroke="#c0c0c0" stroke-width="0.12">3</text>
<line x1="573.7" y1="482.5" x2="596.9" y2="482.5" stroke="#c4c4c4" stroke-width="1.0"/>
<line x1="561.6" y1="482.5" x2="573.7" y2="482.5" stroke="#800000" stroke-width="1.0"/>
<line x1="643.8" y1="482.5" x2="667" y2="482.5" stroke="#c4c4c4" stroke-width="1.0"/>
<line x1="667" y1="482.5" x2="678.3" y2="482.5" stroke="#800000" stroke-width="1.0"/>
<text x="558.7" y="486.4" fill="#800000" font-size="8.4" text-anchor="end" stroke="#800000" stroke-width="0.12">BIAS</text>
<text x="681" y="486.4" fill="#800000" font-size="8.4" text-anchor="start" stroke="#800000" stroke-width="0.12">PG</text>
<text x="585" y="479.79999999999995" fill="#c0c0c0" font-size="7.5" text-anchor="middle" stroke="#c0c0c0" stroke-width="0.12">5</text>
<text x="657" y="479.79999999999995" fill="#c0c0c0" font-size="7.5" text-anchor="middle" stroke="#c0c0c0" stroke-width="0.12">2</text>
<line x1="573.7" y1="493.5" x2="596.9" y2="493.5" stroke="#c4c4c4" stroke-width="1.0"/>
<line x1="561.6" y1="493.5" x2="573.7" y2="493.5" stroke="#800000" stroke-width="1.0"/>
<line x1="643.8" y1="493.5" x2="667" y2="493.5" stroke="#c4c4c4" stroke-width="1.0"/>
<line x1="667" y1="493.5" x2="678.3" y2="493.5" stroke="#800000" stroke-width="1.0"/>
<text x="558.7" y="497.5" fill="#800000" font-size="8.4" text-anchor="end" stroke="#800000" stroke-width="0.12">GND</text>
<text x="681" y="497.5" fill="#800000" font-size="8.4" text-anchor="start" stroke="#800000" stroke-width="0.12">GND</text>
<text x="585" y="490.9" fill="#c0c0c0" font-size="7.5" text-anchor="middle" stroke="#c0c0c0" stroke-width="0.12">6</text>
<text x="657" y="490.9" fill="#c0c0c0" font-size="7.5" text-anchor="middle" stroke="#c0c0c0" stroke-width="0.12">1</text>
<line x1="561.5" y1="429" x2="561.5" y2="499.5" stroke="#800000" stroke-width="1.0"/>
<line x1="678.5" y1="429" x2="678.5" y2="499.5" stroke="#800000" stroke-width="1.0"/>
<text x="595" y="421.5" fill="#c0c0c0" font-size="8.2" text-anchor="start" textLength="14" lengthAdjust="spacingAndGlyphs" stroke="#c0c0c0" stroke-width="0.12">J11</text>
<text x="620" y="421.5" fill="#c0c0c0" font-size="8.2" text-anchor="start" textLength="14" lengthAdjust="spacingAndGlyphs" stroke="#c0c0c0" stroke-width="0.12">J12</text>
<text x="585" y="467.5" fill="#000000" font-size="8.2" text-anchor="start" textLength="18" lengthAdjust="spacingAndGlyphs" stroke="#000000" stroke-width="0.12">DNP</text>
<text x="635" y="467.5" fill="#000000" font-size="8.2" text-anchor="start" textLength="18" lengthAdjust="spacingAndGlyphs" stroke="#000000" stroke-width="0.12">DNP</text>
<polyline points="1228.50,412.50 1228.50,423.50 1380.50,423.50" fill="none" stroke="#000080" stroke-width="1.0"/>
<line x1="1228.5" y1="423.4" x2="1228.5" y2="411.6" stroke="#000000" stroke-width="1.0"/>
<circle cx="1228.4" cy="407.2" r="4.4" fill="#fff" stroke="#000000" stroke-width="1"/>
<text x="1223" y="435" fill="#000080" font-size="8.2" text-anchor="start" textLength="15" lengthAdjust="spacingAndGlyphs" stroke="#000080" stroke-width="0.12">TP6</text>
<line x1="1251.5" y1="423.4" x2="1251.5" y2="448" stroke="#000080" stroke-width="1.0"/>
<line x1="1251.5" y1="448" x2="1251.5" y2="458.3" stroke="#800000" stroke-width="1.0"/>
<line x1="1239.7" y1="458.5" x2="1263.7" y2="458.5" stroke="#800000" stroke-width="1.0"/>
<line x1="1243.2" y1="462.5" x2="1260.2" y2="462.5" stroke="#800000" stroke-width="1.0"/>
<line x1="1246.45" y1="465.5" x2="1256.95" y2="465.5" stroke="#800000" stroke-width="1.0"/>
<line x1="1250.2" y1="469.5" x2="1253.2" y2="469.5" stroke="#800000" stroke-width="1.0"/>
<text x="1242.2" y="478.8" fill="#800000" font-size="8.2" text-anchor="start" textLength="19" lengthAdjust="spacingAndGlyphs" stroke="#800000" stroke-width="0.12">GND</text>
<line x1="1275.5" y1="412.1" x2="1275.5" y2="423.4" stroke="#000000" stroke-width="1.0"/>
<circle cx="1275.5" cy="407.5" r="4.4" fill="#fff" stroke="#000000" stroke-width="1"/>
<text x="1270" y="435" fill="#000080" font-size="8.2" text-anchor="start" textLength="15" lengthAdjust="spacingAndGlyphs" stroke="#000080" stroke-width="0.12">TP7</text>
<line x1="1380.3" y1="423.5" x2="1407" y2="423.5" stroke="#000000" stroke-width="1.0"/>
<circle cx="1415.8" cy="423.4" r="8.8" fill="none" stroke="#000000" stroke-width="6.2"/>
<text x="1403" y="410" fill="#000000" font-size="8.2" text-anchor="start" textLength="9" lengthAdjust="spacingAndGlyphs" stroke="#000000" stroke-width="0.12">J8</text>
<text x="1403.6" y="445" fill="#000080" font-size="8.2" text-anchor="start" textLength="19.3" lengthAdjust="spacingAndGlyphs" stroke="#000080" stroke-width="0.12">GND</text>
<circle cx="152.5" cy="84.5" r="4.0" fill="#000080"/>
<circle cx="257.5" cy="84.5" r="4.0" fill="#000080"/>
<circle cx="304.5" cy="84.5" r="4.0" fill="#000080"/>
<circle cx="304.5" cy="142.5" r="4.0" fill="#000080"/>
<circle cx="351.5" cy="84.5" r="4.0" fill="#000080"/>
<circle cx="398.5" cy="84.5" r="4.0" fill="#000080"/>
<circle cx="351.5" cy="142.5" r="4.0" fill="#000080"/>
<circle cx="328.5" cy="142.5" r="4.0" fill="#000080"/>
<circle cx="444.5" cy="84.5" r="4.0" fill="#000080"/>
<circle cx="480.5" cy="166.5" r="4.0" fill="#000080"/>
<circle cx="503.5" cy="166.5" r="4.0" fill="#000080"/>
<circle cx="526.5" cy="166.5" r="4.0" fill="#000080"/>
<circle cx="515.5" cy="84.5" r="4.0" fill="#000080"/>
<circle cx="550.5" cy="84.5" r="4.0" fill="#000080"/>
<circle cx="550.5" cy="201.5" r="4.0" fill="#000080"/>
<circle cx="526.5" cy="283.5" r="4.0" fill="#000080"/>
<circle cx="830.5" cy="201.5" r="4.0" fill="#000080"/>
<circle cx="842.5" cy="294.5" r="4.0" fill="#000080"/>
<circle cx="842.5" cy="306.5" r="4.0" fill="#000080"/>
<circle cx="912.5" cy="154.5" r="4.0" fill="#000080"/>
<circle cx="889.5" cy="213.5" r="4.0" fill="#000080"/>
<circle cx="994.5" cy="213.5" r="4.0" fill="#000080"/>
<circle cx="1064.5" cy="213.5" r="4.0" fill="#000080"/>
<circle cx="1099.5" cy="213.5" r="4.0" fill="#000080"/>
<circle cx="1146.5" cy="213.5" r="4.0" fill="#000080"/>
<circle cx="1193.5" cy="213.5" r="4.0" fill="#000080"/>
<circle cx="1251.5" cy="213.5" r="4.0" fill="#000080"/>
<circle cx="1310.5" cy="213.5" r="4.0" fill="#000080"/>
<circle cx="1064.5" cy="236.5" r="4.0" fill="#000080"/>
<circle cx="959.5" cy="283.5" r="4.0" fill="#000080"/>
<circle cx="924.5" cy="283.5" r="4.0" fill="#000080"/>
<circle cx="1064.5" cy="283.5" r="4.0" fill="#000080"/>
<circle cx="1146.5" cy="259.5" r="4.0" fill="#000080"/>
<circle cx="1170.5" cy="259.5" r="4.0" fill="#000080"/>
<circle cx="1193.5" cy="259.5" r="4.0" fill="#000080"/>
<circle cx="1228.5" cy="213.5" r="4.0" fill="#000080"/>
<circle cx="152.5" cy="271.5" r="4.0" fill="#000080"/>
<circle cx="246.5" cy="271.5" r="4.0" fill="#000080"/>
<circle cx="59.5" cy="470.5" r="4.0" fill="#000080"/>
<circle cx="152.5" cy="470.5" r="4.0" fill="#000080"/>
<circle cx="175.5" cy="470.5" r="4.0" fill="#000080"/>
<circle cx="1251.5" cy="423.5" r="4.0" fill="#000080"/>
<circle cx="1275.5" cy="423.5" r="4.0" fill="#000080"/>
</svg></body></html>
